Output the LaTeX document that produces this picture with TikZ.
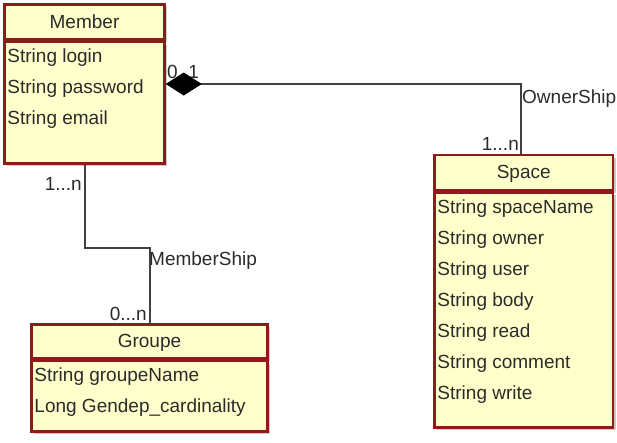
\documentclass[tikz,border=0pt]{standalone}
\usepackage{fontspec}
\setmainfont{Liberation Sans}
\usetikzlibrary{arrows.meta,positioning,calc,shadows}
\definecolor{umlred}{HTML}{8E1B1B}
\definecolor{umlfill}{HTML}{FFFFCC}
\definecolor{umltext}{HTML}{2B2B2B}
\definecolor{umlline}{HTML}{404040}
\newcommand{\umlfont}{\fontsize{19}{22}\selectfont}
\tikzset{
  umlbox/.style={rectangle, draw=umlred, line width=2.5pt, fill=umlfill, minimum width=#1,
                 drop shadow={shadow xshift=2.5pt, shadow yshift=-2.5pt, fill=black!45, opacity=0.45}},
  classhead/.style={umlbox=#1, font=\umlfont, text=umltext, text height=14pt, text depth=2pt,
                    minimum height=35pt, inner sep=0pt},
  classbody/.style={umlbox=#1, inner sep=0pt},
  attr/.style={anchor=base west, inner sep=0pt, font=\umlfont, text=umltext},
  mult/.style={inner sep=0pt, font=\umlfont, text=umltext},
  assoc/.style={draw=umlline, line width=2pt},
}

\begin{document}
\begin{tikzpicture}[x=1pt, y=-1pt]
    \fill[white] (0,0) rectangle (617,442);
    \useasboundingbox (0,0) rectangle (617,442);
    % classes
    \node[classhead=160pt] (memberhead) at (84.5,22) {Member};
    \node[classbody=160pt, minimum height=121.5pt, below=0pt of memberhead] (memberbody) {};
    \node[classhead=178.5pt] (spacehead) at (523.75,172.5) {Space};
    \node[classbody=178.5pt, minimum height=235pt, below=0pt of spacehead] (spacebody) {};
    \node[classhead=236pt, minimum height=34pt] (groupehead) at (149.5,341.5) {Groupe};
    \node[classbody=236pt, minimum height=70.5pt, below=0pt of groupehead] (groupebody) {};
    \foreach \a [count=\i] in {String login, String password, String email}
      \node[attr] (memberattr\i) at ($(memberbody.north west)+(4,22+31*\i-31)$) {\a};
    \foreach \a [count=\i] in {String spaceName, String owner, String user, String body, String read, String comment, String write}
      \node[attr] (spaceattr\i) at ($(spacebody.north west)+(4,22+31*\i-31)$) {\a};
    \foreach \a [count=\i] in {String groupeName, Long Gendep\_cardinality}
      \node[attr] (groupeattr\i) at ($(groupebody.north west)+(4,22+31*\i-31)$) {\a};
    % association labels
    \node[mult, anchor=base west] (ownmult) at (167,78) {0..1};
    \node[mult, anchor=base west] (ownname) at (522,103) {OwnerShip};
    \node[mult, anchor=base east] (ownspace) at (519,150) {1...n};
    \node[mult, anchor=base east] (memmult) at (82,190) {1...n};
    \node[mult, anchor=base west] (memname) at (149,265) {MemberShip};
    \node[mult, anchor=base east] (memgroupe) at (147,320) {0...n};
    % associations
    \coordinate (ownbend) at (521,84);
    \coordinate (memberbend) at (120,248);
    \draw[assoc, {Diamond[length=36pt, width=23pt, color=black]}-]
      (memberbody.east |- ownbend) -- (ownbend) -- (spacehead.north -| ownbend);
    \draw[assoc] (memberbody.south) |- (memberbend) -| (groupehead.north);
\end{tikzpicture}
\end{document}
